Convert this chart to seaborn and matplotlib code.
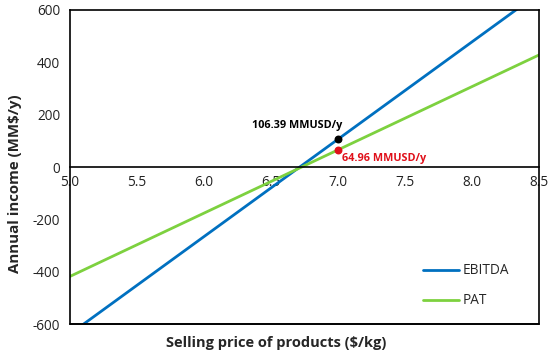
import matplotlib
matplotlib.use("Agg")
import matplotlib.pyplot as plt
import seaborn as sns
import pandas as pd

# Data
price = [5.0, 8.5]
ebitda = [-638, 664]
pat = [-418, 428]
point_price = 7.0
ebitda_point = 106.39
pat_point = 64.96
x_ticks = [5.0, 5.5, 6.0, 6.5, 7.0, 7.5, 8.0, 8.5]
y_ticks = [-600, -400, -200, 0, 200, 400, 600]

sns.set_style("white")
plt.rcParams['font.family'] = ['Open Sans', 'DejaVu Sans']

df = pd.DataFrame({
    "price": price * 2,
    "income": ebitda + pat,
    "series": ["EBITDA"] * len(price) + ["PAT"] * len(price),
})

fig = plt.figure(figsize=(5.5, 3.55), dpi=100)
ax = fig.add_axes([0.127, 0.087, 0.853, 0.885])

sns.lineplot(data=df, x="price", y="income", hue="series",
             palette={"EBITDA": "#0070C0", "PAT": "#7DD13F"},
             linewidth=2.0, ax=ax, legend=True)

ax.scatter([point_price], [ebitda_point], color="black", s=22, zorder=5)
ax.scatter([point_price], [pat_point], color="#E0101A", s=22, zorder=5)
ax.annotate(f"{ebitda_point:.2f} MMUSD/y", (point_price, ebitda_point),
            xytext=(-62, 6), textcoords="offset points", fontsize=7.8,
            fontweight="bold", color="black", ha="left", va="bottom")
ax.annotate(f"{pat_point:.2f} MMUSD/y", (point_price, pat_point),
            xytext=(3, -10), textcoords="offset points", fontsize=7.8,
            fontweight="bold", color="#E0101A", ha="left", va="bottom")

ax.set_xlim(5.0, 8.5)
ax.set_ylim(-600, 600)
ax.set_xticks(x_ticks)
ax.set_xticklabels([f"{v:.1f}" for v in x_ticks])
ax.set_yticks(y_ticks)
ax.set_yticklabels([str(v) for v in y_ticks])

for s in ["left", "right", "top", "bottom"]:
    ax.spines[s].set_color("black")
    ax.spines[s].set_linewidth(1.2)
    ax.spines[s].set_visible(True)
ax.spines["bottom"].set_position(("data", 0))
ax.axhline(-600, color="black", linewidth=1.4, clip_on=False, zorder=6)

ax.tick_params(axis="both", length=0, labelsize=9.8, colors="#222222")
ax.tick_params(axis="x", pad=6)
ax.tick_params(axis="y", pad=7)

ax.set_xlabel("")
ax.set_ylabel("")
fig.text(0.503, 0.034, "Selling price of products ($/kg)", ha="center", va="center",
         fontsize=10.5, fontweight="bold")
fig.text(0.028, 0.482, "Annual income (MM$/y)", ha="center", va="center",
         rotation=90, fontsize=10.8, fontweight="bold")

leg = ax.legend(loc="lower left", bbox_to_anchor=(0.753, 0.05), frameon=False,
                fontsize=9.8, handlelength=2.6, handletextpad=0.3, labelspacing=1.1,
                borderpad=0, borderaxespad=0)
for line in leg.get_lines():
    line.set_linewidth(2.0)

fig.savefig("out.png", dpi=100)
